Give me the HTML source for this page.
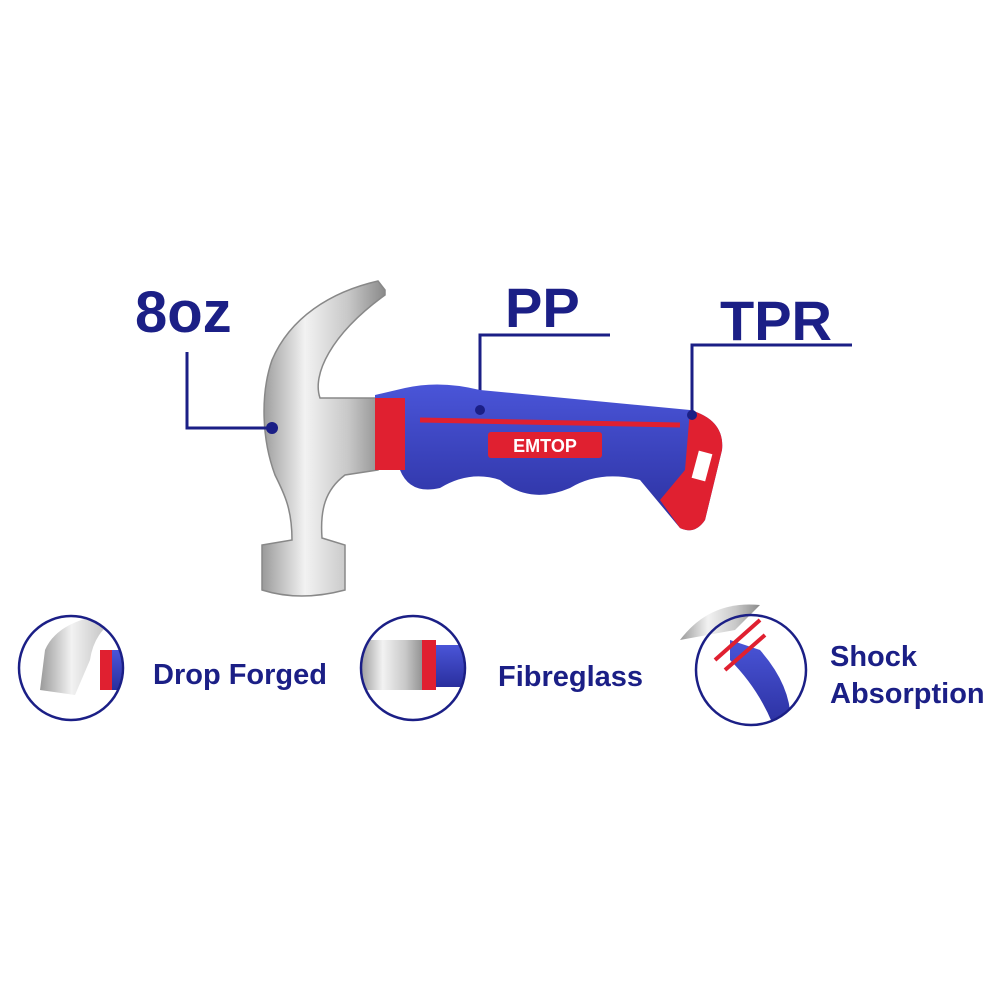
<!DOCTYPE html>
<html><head><meta charset="utf-8"><style>
html,body{margin:0;padding:0;background:#fff;}
svg{display:block}
text{font-family:"Liberation Sans",sans-serif;font-weight:bold;fill:#1b1f86}
</style></head><body>
<svg width="1000" height="1000" viewBox="0 0 1000 1000" xmlns="http://www.w3.org/2000/svg">
<defs>
<linearGradient id="steel" x1="0" x2="1" y1="0" y2="0">
<stop offset="0" stop-color="#9a9a9a"/><stop offset="0.35" stop-color="#f2f2f2"/><stop offset="0.7" stop-color="#c8c8c8"/><stop offset="1" stop-color="#8a8a8a"/>
</linearGradient>
<linearGradient id="blue" x1="0" x2="0" y1="0" y2="1">
<stop offset="0" stop-color="#4a55d8"/><stop offset="1" stop-color="#2a2f9e"/>
</linearGradient>
<clipPath id="c1"><circle cx="71" cy="668" r="51"/></clipPath>
<clipPath id="c2"><circle cx="413" cy="668" r="51"/></clipPath>
<clipPath id="c3"><circle cx="751" cy="670" r="54"/></clipPath>
</defs>
<text x="135" y="332" font-size="58">8oz</text>
<text x="505" y="327" font-size="56">PP</text>
<text x="720" y="340" font-size="56">TPR</text>
<!-- hammer head -->
<path d="M385,290 L378,281 C330,292 290,318 272,360 C260,395 262,440 275,475 C285,495 292,510 292,540 L262,545 L262,590 Q300,602 345,590 L345,545 L322,538 C320,510 325,490 345,475 L378,470 L378,398 L320,398 C312,375 330,335 385,295 Z" fill="url(#steel)" stroke="#888" stroke-width="1.5"/>
<g stroke="#1b1f86" stroke-width="3" fill="none">
<polyline points="187,352 187,428 272,428"/>
<polyline points="610,335 480,335 480,410"/>
<polyline points="852,345 692,345 692,415"/>
</g>
<circle cx="272" cy="428" r="6" fill="#1b1f86"/>
<!-- handle -->
<path d="M375,395 L405,388 Q440,380 480,390 L690,410 Q725,420 722,450 L705,520 Q695,535 680,528 L640,480 Q600,470 570,488 Q530,505 500,480 Q470,470 440,488 Q410,495 400,470 L375,470 Z" fill="url(#blue)"/>
<rect x="375" y="398" width="30" height="72" fill="#e02030"/>
<path d="M690,410 Q725,420 722,450 L705,520 Q695,535 680,528 L660,500 L685,470 Z" fill="#e02030"/>
<rect x="695" y="452" width="14" height="28" fill="#fff" transform="rotate(15 702 466)"/>
<path d="M420,420 L680,425" stroke="#e02030" stroke-width="5" fill="none"/>
<rect x="488" y="432" width="114" height="26" rx="3" fill="#e02030"/>
<text x="545" y="452" font-size="18" text-anchor="middle" style="fill:#fff">EMTOP</text>
<circle cx="480" cy="410" r="5" fill="#1b1f86"/>
<circle cx="692" cy="415" r="5" fill="#1b1f86"/>
<!-- mini icons -->
<g clip-path="url(#c1)">
<path d="M40,690 L45,650 Q60,615 130,612 Q95,625 90,660 L75,695 Z" fill="url(#steel)"/>
<rect x="100" y="650" width="30" height="40" fill="url(#blue)"/>
<rect x="100" y="650" width="12" height="40" fill="#e02030"/>
</g>
<g clip-path="url(#c2)">
<rect x="360" y="640" width="65" height="50" fill="url(#steel)"/>
<rect x="422" y="640" width="14" height="50" fill="#e02030"/>
<rect x="436" y="645" width="30" height="42" fill="url(#blue)"/>
</g>
<path d="M680,640 Q710,600 760,605 L735,630 Z" fill="url(#steel)"/>
<g clip-path="url(#c3)">
<path d="M730,640 L760,650 Q795,690 790,730 L775,730 Q760,690 730,660 Z" fill="url(#blue)"/>
</g>
<path d="M715,660 L760,620 M725,670 L765,635" stroke="#e02030" stroke-width="4"/>
<g fill="none" stroke="#1b1f86" stroke-width="2.5">
<circle cx="71" cy="668" r="52"/>
<circle cx="413" cy="668" r="52"/>
<circle cx="751" cy="670" r="55"/>
</g>
<text x="153" y="684" font-size="29">Drop Forged</text>
<text x="498" y="686" font-size="29">Fibreglass</text>
<text x="830" y="666" font-size="29">Shock</text>
<text x="830" y="703" font-size="29">Absorption</text>
</svg>
</body></html>
